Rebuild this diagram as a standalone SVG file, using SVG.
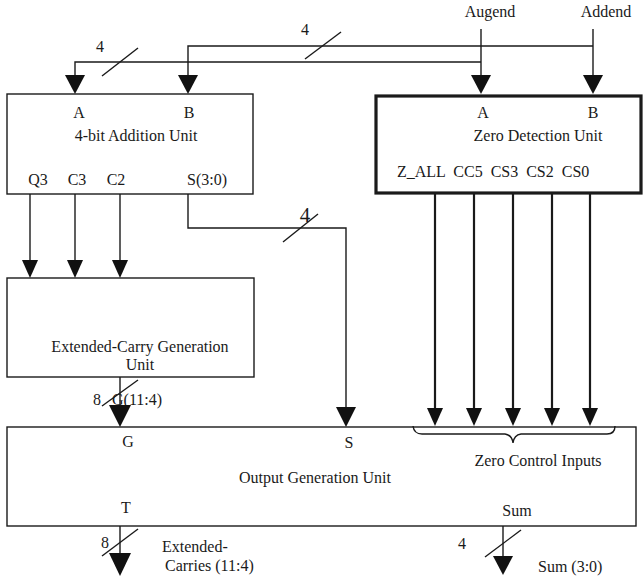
<svg xmlns="http://www.w3.org/2000/svg" width="644" height="580" viewBox="0 0 644 580">
<style>
text{font-family:"Liberation Serif","Times New Roman",serif;font-size:16px;fill:#1a1a1a}
.m{text-anchor:middle}
.box{fill:#fff;stroke:#1a1a1a;stroke-width:1.4}
.thick{fill:#fff;stroke:#1a1a1a;stroke-width:3.2}
.w{fill:none;stroke:#1a1a1a;stroke-width:1.4}
.w2{fill:none;stroke:#1a1a1a;stroke-width:2.2}
.ah{fill:#111;stroke:none}
</style>
<rect width="644" height="580" fill="#fff"/>
<g id="connectors">
  <!-- A bus -->
  <polyline class="w" points="75,76 75,62 481,62"/>
  <!-- B bus -->
  <polyline class="w" points="188,76 188,46 593,46"/>
  <line class="w" x1="481" y1="29" x2="481" y2="76"/>
  <line class="w" x1="593" y1="29" x2="593" y2="76"/>
  <line class="w" x1="102" y1="76" x2="138" y2="48"/>
  <line class="w" x1="305" y1="59" x2="341" y2="32"/>
  <polygon class="ah" points="65,75 85,75 75,94"/>
  <polygon class="ah" points="178,75 198,75 188,94"/>
  <polygon class="ah" points="471,75 491,75 481,94"/>
  <polygon class="ah" points="583,75 603,75 593,94"/>
  <!-- Q3 C3 C2 -->
  <line class="w" x1="30" y1="194" x2="30" y2="262"/>
  <line class="w" x1="75" y1="194" x2="75" y2="262"/>
  <line class="w" x1="120" y1="194" x2="120" y2="262"/>
  <polygon class="ah" points="22,260 38,260 30,278"/>
  <polygon class="ah" points="67,260 83,260 75,278"/>
  <polygon class="ah" points="112,260 128,260 120,278"/>
  <!-- S path -->
  <polyline class="w" points="188,194 188,228 346,228 346,410"/>
  <line class="w" x1="283" y1="242" x2="318" y2="214"/>
  <polygon class="ah" points="336,407 356,407 346,427"/>
  <!-- zero outputs -->
  <line class="w2" x1="435" y1="194" x2="435" y2="410"/>
  <line class="w2" x1="474" y1="194" x2="474" y2="410"/>
  <line class="w2" x1="513" y1="194" x2="513" y2="410"/>
  <line class="w2" x1="552" y1="194" x2="552" y2="410"/>
  <line class="w2" x1="590" y1="194" x2="590" y2="410"/>
  <polygon class="ah" points="427,408 443,408 435,426"/>
  <polygon class="ah" points="466,408 482,408 474,426"/>
  <polygon class="ah" points="505,408 521,408 513,426"/>
  <polygon class="ah" points="544,408 560,408 552,426"/>
  <polygon class="ah" points="582,408 598,408 590,426"/>
  <!-- G input -->
  <line class="w" x1="120" y1="377" x2="120" y2="410"/>
  <line class="w" x1="102" y1="406" x2="138" y2="380"/>
  <!-- T output -->
  <line class="w" x1="120" y1="526" x2="120" y2="556"/>
  <line class="w" x1="102" y1="556" x2="138" y2="529"/>
  <polygon class="ah" points="109,553 131,553 120,576"/>
  <!-- Sum output -->
  <line class="w" x1="503" y1="526" x2="503" y2="558"/>
  <line class="w" x1="485" y1="557" x2="521" y2="530"/>
  <polygon class="ah" points="493,556 513,556 503,575"/>
</g>
<g id="adder">
  <rect class="box" x="7" y="94" width="246" height="100"/>
  <text class="m" x="79" y="118">A</text>
  <text class="m" x="189" y="118">B</text>
  <text class="m" x="136" y="141">4-bit Addition Unit</text>
  <text class="m" x="38" y="185">Q3</text>
  <text class="m" x="77" y="185">C3</text>
  <text class="m" x="116" y="185">C2</text>
  <text class="m" x="207" y="185">S(3:0)</text>
</g>
<g id="zero-detect">
  <rect class="thick" x="376" y="96" width="265" height="97"/>
  <text class="m" x="483" y="118">A</text>
  <text class="m" x="593" y="118">B</text>
  <text class="m" x="538" y="141">Zero Detection Unit</text>
  <text x="397" y="177" xml:space="preserve">Z_ALL  CC5  CS3  CS2  CS0</text>
</g>
<g id="ext-carry">
  <rect class="box" x="7" y="278" width="247" height="99"/>
  <text class="m" x="140" y="352">Extended-Carry Generation</text>
  <text class="m" x="140" y="370">Unit</text>
</g>
<g id="output-gen">
  <rect class="box" x="7" y="427" width="629" height="99"/>
  <text class="m" x="128" y="447">G</text>
  <text class="m" x="349" y="448">S</text>
  <text class="m" x="315" y="483">Output Generation Unit</text>
  <text class="m" x="126" y="513">T</text>
  <text class="m" x="517" y="516">Sum</text>
  <text class="m" x="538" y="466">Zero Control Inputs</text>
  <path class="w" d="M413,426 Q414,434 422,434 L505,434 Q512,435 513,443 Q514,435 521,434 L607,434 Q615,434 615,426"/>
</g>
<g id="labels">
  <text x="490" y="17" class="m">Augend</text>
  <text x="606" y="17" class="m">Addend</text>
  <text class="m" x="100" y="52">4</text>
  <text class="m" x="305" y="35">4</text>
  <text class="m" x="305" y="222" style="font-size:21px">4</text>
  <text x="93" y="405">8</text>
  <text x="112" y="405">G(11:4)</text>
  <text x="101" y="548">8</text>
  <text class="m" x="462" y="549">4</text>
  <text x="162" y="552">Extended-</text>
  <text x="165" y="571">Carries (11:4)</text>
  <text x="538" y="572">Sum (3:0)</text>
</g>
<polygon class="ah" points="109,405 131,405 120,427"/>
</svg>
